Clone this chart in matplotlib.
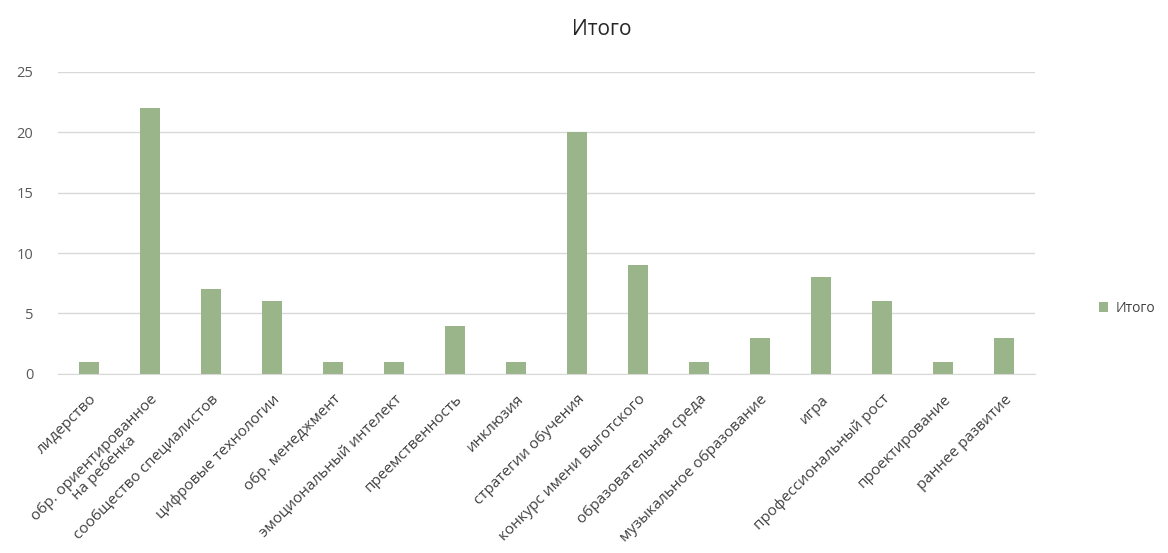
import numpy as np
import matplotlib.pyplot as plt

plt.rcParams['font.family'] = ['Open Sans', 'DejaVu Sans']

categories = ["лидерство", "обр. ориентированное\nна ребенка", "сообщество специалистов",
              "цифровые технологии", "обр. менеджмент", "эмоциональный интелект",
              "преемственность", "инклюзия", "стратегии обучения",
              "конкурс имени Выготского", "образовательная среда",
              "музыкальное образование", "игра", "профессиональный рост",
              "проектирование", "раннее развитие"]
values = [1, 22, 7, 6, 1, 1, 4, 1, 20, 9, 1, 3, 8, 6, 1, 3]
yticks = [0, 5, 10, 15, 20, 25]

fig = plt.figure(figsize=(11.68, 5.53), dpi=100)
ax = fig.add_axes([0.05, 0.324, 0.836, 0.546])

x = np.arange(len(categories))
ax.bar(x, values, width=0.33, color="#9bb58a", label="Итого", zorder=3)

ax.set_xlim(-0.5, len(categories) - 0.5)
ax.set_ylim(0, 25)
ax.set_yticks(yticks)
ax.yaxis.grid(True, color="#d9d9d9", linewidth=1, zorder=0)
for s in ["top", "right", "left"]:
    ax.spines[s].set_visible(False)
ax.spines["bottom"].set_color("#d9d9d9")
ax.tick_params(axis="both", length=0)
ax.tick_params(axis="y", pad=18, colors="#595959", labelsize=10.5)
ax.tick_params(axis="x", colors="#404040", pad=13, labelsize=11)
ax.set_xticks(x)
ax.set_xticklabels(categories, rotation=45, ha="right", rotation_mode="anchor",
                   multialignment="center", linespacing=0.95)

fig.suptitle("Итого", x=0.515, y=0.965, fontsize=15, color="#262626")
fig.legend(loc="center left", bbox_to_anchor=(0.93, 0.443), frameon=False,
           fontsize=10, handlelength=0.7, handleheight=0.7, handletextpad=0.5,
           labelcolor="#404040")

fig.savefig("out.png", dpi=100)
